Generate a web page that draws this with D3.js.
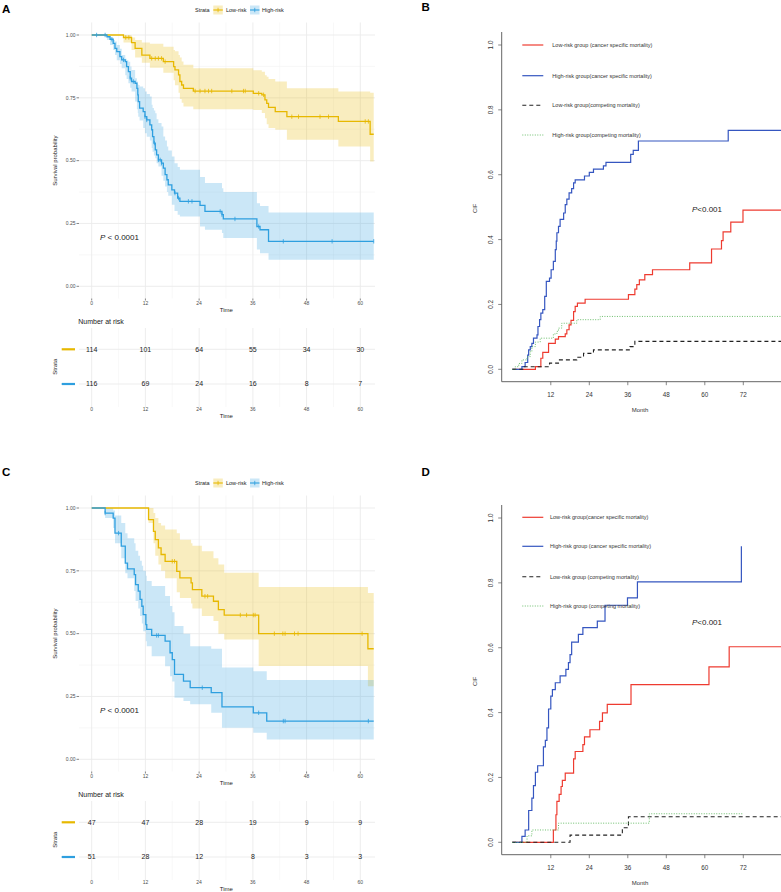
<!DOCTYPE html>
<html><head><meta charset="utf-8">
<script src="https://cdn.jsdelivr.net/npm/d3@7"></script>
<style>body{margin:0;background:#fff} svg{display:block;font-family:"Liberation Sans",Arial,Helvetica,sans-serif}</style>
</head><body><svg id="c" width="781" height="892"></svg>
<script>
// ---------- Panel A (Kaplan-Meier) ----------
const aLowT  = [0,7.1,8.9,9.7,11.2,13.0,16.0,18.3,18.6,19.4,19.7,20.1,20.5,22.7,36.1,38.0,38.7,39.1,39.5,41.0,43.6,55.1,62.2,63.0];
const aLowS  = [1,0.99,0.97,0.947,0.92,0.907,0.894,0.874,0.861,0.841,0.815,0.801,0.788,0.777,0.768,0.762,0.742,0.728,0.712,0.695,0.675,0.656,0.605,0.605];
const aLowU  = [1,1,0.99,0.98,0.97,0.965,0.953,0.94,0.935,0.92,0.91,0.895,0.882,0.868,0.86,0.854,0.84,0.834,0.825,0.815,0.788,0.775,0.77,0.77];
const aLowL  = [1,0.97,0.94,0.91,0.89,0.87,0.85,0.82,0.80,0.77,0.745,0.73,0.715,0.705,0.702,0.69,0.669,0.645,0.63,0.623,0.583,0.556,0.497,0.497];
const aLowC  = [7.6,8.3,13.4,14.2,14.9,15.6,16.4,23.1,24.2,25.3,26.1,26.8,31.3,33.9,34.3,37.3,38.4,44.7,46.2,51.0,52.9,61.1,61.8];
const aHighT = [0,3.4,4.1,4.8,5.2,5.6,6.3,6.7,7.5,7.8,8.2,8.6,8.9,9.7,10.1,10.3,10.4,10.7,11.5,11.9,12.3,13.0,13.4,13.6,13.9,14.2,14.5,14.9,15.6,16.0,16.4,16.8,17.1,17.9,18.5,19.2,19.7,24.2,25.3,29.1,29.4,36.9,37.6,39.5,63.0];
const aHighS = [1,0.993,0.983,0.967,0.947,0.934,0.914,0.901,0.894,0.874,0.854,0.828,0.815,0.808,0.788,0.762,0.735,0.709,0.695,0.675,0.662,0.642,0.623,0.596,0.570,0.543,0.523,0.503,0.490,0.470,0.444,0.424,0.404,0.384,0.371,0.351,0.338,0.322,0.298,0.285,0.268,0.238,0.225,0.179,0.179];
const aHighU = [1,0.995,0.99,0.98,0.974,0.96,0.945,0.92,0.905,0.9,0.894,0.875,0.861,0.828,0.815,0.805,0.801,0.795,0.788,0.775,0.765,0.755,0.722,0.71,0.70,0.689,0.665,0.65,0.636,0.596,0.58,0.556,0.54,0.517,0.49,0.475,0.464,0.435,0.411,0.39,0.375,0.33,0.32,0.294,0.294];
const aHighL = [1,0.98,0.96,0.94,0.92,0.90,0.885,0.868,0.84,0.825,0.808,0.79,0.775,0.735,0.705,0.69,0.675,0.66,0.63,0.609,0.595,0.58,0.55,0.535,0.52,0.51,0.49,0.477,0.44,0.42,0.397,0.375,0.36,0.325,0.30,0.285,0.278,0.238,0.225,0.212,0.192,0.146,0.132,0.106,0.106];
const aHighC = [1.1,3.0,4.5,7.1,8.6,9.3,11.9,12.3,14.0,14.9,15.3,15.6,18.6,19.4,21.6,22.4,28.7,29.1,32.0,37.3,42.8,53.7,63.0];
const aRiskLow  = [114,101,64,55,34,30];
const aRiskHigh = [116,69,24,16,8,7];

// ---------- Panel C (Kaplan-Meier) ----------
const cLowT  = [0,12.7,13.8,14.2,14.9,15.5,16.4,19.0,19.7,22.2,22.5,24.6,27.2,28.3,29.6,37.3,61.7,63.0];
const cLowS  = [1,0.954,0.907,0.874,0.841,0.815,0.788,0.748,0.722,0.702,0.675,0.649,0.629,0.596,0.574,0.5,0.44,0.44];
const cLowU  = [1,1,0.98,0.96,0.94,0.93,0.914,0.90,0.874,0.86,0.85,0.828,0.80,0.775,0.742,0.686,0.662,0.662];
const cLowL  = [1,0.94,0.86,0.81,0.775,0.75,0.72,0.665,0.642,0.62,0.60,0.57,0.55,0.50,0.477,0.371,0.291,0.291];
const cLowC  = [18.0,18.5,25.3,25.9,33.2,34.6,36.1,36.5,40.8,42.7,43.2,45.3,46.1,60.4];
const cHighT = [0,3.0,4.8,5.2,6.6,7.5,8.0,9.5,9.8,10.4,10.8,11.2,11.5,12.1,12.3,13.4,16.4,17.5,18.0,18.5,20.5,22.0,26.7,29.1,36.1,39.1,63.0];
const cHighS = [1,0.98,0.96,0.90,0.848,0.781,0.758,0.735,0.695,0.669,0.636,0.609,0.576,0.536,0.517,0.493,0.47,0.424,0.397,0.338,0.311,0.285,0.265,0.209,0.185,0.152,0.152];
const cHighU = [1,1,0.99,0.97,0.94,0.90,0.88,0.86,0.83,0.81,0.79,0.77,0.75,0.73,0.71,0.69,0.65,0.61,0.585,0.53,0.50,0.45,0.44,0.365,0.35,0.316,0.316];
const cHighL = [1,0.96,0.92,0.86,0.80,0.74,0.72,0.67,0.63,0.60,0.57,0.54,0.51,0.47,0.45,0.41,0.37,0.33,0.31,0.245,0.232,0.219,0.185,0.126,0.106,0.079,0.079];
const cHighC = [3.0,6.0,14.5,14.9,24.7,37.3,42.8,43.2,61.8];
const cRiskLow  = [47,47,28,19,9,9];
const cRiskHigh = [51,28,12,8,3,3];

const kmTicksX = [0,12,24,36,48,60];
const kmTicksY = [0,0.25,0.5,0.75,1];
const kmTickLabY = ["0.00","0.25","0.50","0.75","1.00"];
const strata = ["Low-risk","High-risk"];

// ---------- Panel B (CIF) ----------
const bHighCsmT = [0,3.0,4.0,4.8,5.1,5.6,6.1,6.6,7.7,8.0,8.5,8.9,9.5,10.1,10.6,11.6,12.1,12.8,13.4,13.7,13.9,14.4,14.9,16.0,16.5,17.0,17.7,18.5,19.1,19.6,22.5,24.0,25.3,28.4,29.2,36.9,37.7,39.3,67.3,84];
const bHighCsmV = [0,0.008,0.021,0.044,0.06,0.07,0.08,0.096,0.106,0.132,0.153,0.173,0.184,0.225,0.271,0.281,0.307,0.333,0.369,0.395,0.421,0.441,0.462,0.482,0.508,0.525,0.544,0.557,0.575,0.584,0.596,0.607,0.617,0.627,0.638,0.663,0.675,0.704,0.737,0.737];
const bLowCsmT  = [0,7.2,8.9,9.5,11.3,13.4,14.4,16.5,17.0,17.7,18.3,19.1,19.6,20.3,22.7,36.2,38.2,38.8,39.6,41.3,43.7,55.3,62.1,65.2,65.7,68.1,71.9,84];
const bLowCsmV  = [0,0.008,0.034,0.052,0.08,0.093,0.101,0.109,0.122,0.137,0.151,0.178,0.194,0.204,0.216,0.23,0.247,0.261,0.276,0.292,0.307,0.328,0.371,0.397,0.424,0.454,0.491,0.491];
const bHighCmpT = [0,0.9,2.0,3.0,4.6,5.6,6.1,7.2,8.7,12.8,13.9,14.4,15.4,20.1,27.4,84];
const bHighCmpV = [0,0.008,0.018,0.029,0.039,0.055,0.07,0.084,0.096,0.109,0.117,0.127,0.142,0.153,0.163,0.163];
const bLowCmpT  = [0,3.5,11.6,14.4,20.1,22.2,25.3,36.7,38.2,84];
const bLowCmpV  = [0,0.008,0.019,0.029,0.037,0.049,0.06,0.07,0.086,0.086];
const bLegend = ["Low-risk group (cancer specific mortality)","High-risk group(cancer specific mortality)","Low-risk group(competing mortality)","High-risk group(competing mortality)"];

// ---------- Panel D (CIF) ----------
const dHighCsmT = [0,3.0,4.0,5.1,6.1,6.6,7.2,7.9,9.7,10.3,10.8,11.3,12.0,12.5,13.4,14.9,16.7,17.5,18.0,18.5,20.6,22.0,26.5,28.9,35.9,39.0,71.4];
const dHighCsmV = [0,0.018,0.038,0.098,0.136,0.175,0.216,0.236,0.294,0.314,0.353,0.411,0.451,0.471,0.492,0.513,0.533,0.554,0.579,0.617,0.641,0.662,0.682,0.731,0.754,0.803,0.913];
const dLowCsmT  = [0,12.8,13.6,13.9,14.6,15.2,15.6,16.5,19.1,19.6,22.0,22.5,24.2,27.2,28.1,29.6,37.0,61.3,67.6,84];
const dLowCsmV  = [0,0.038,0.085,0.126,0.148,0.172,0.191,0.213,0.257,0.28,0.301,0.325,0.347,0.373,0.399,0.425,0.486,0.541,0.603,0.603];
const dHighCmpT = [0,4.6,6.1,14.4,42.7,71.7];
const dHighCmpV = [0,0.02,0.038,0.059,0.088,0.088];
const dLowCmpT  = [0,18.0,34.3,36.2,84];
const dLowCmpV  = [0,0.022,0.045,0.079,0.079];
const dLegend = ["Low-risk group(cancer specific mortality)","High-risk group (cancer specific mortality)","Low-risk group (competing mortality)","High-risk group (competing mortality)"];

const cifTicksX = [12,24,36,48,60,72];
const cifTicksY = [0,0.2,0.4,0.6,0.8,1.0];

// ---------- drawing ----------
const svg = d3.select("#c");
const YEL = "#E7B800", BLU = "#2E9FDF";
const RED = "#EE3B30", CBLU = "#3556C0", GRN = "#5CB85C", BLK = "#222222";

function stepVal(ts, vs, t) { const i = d3.bisectRight(ts, t) - 1; return vs[Math.max(0, i)]; }

function drawKM(dy, low, high, riskLow, riskHigh) {
  const g = svg.append("g").attr("transform", `translate(0,${dy})`);
  const x = d3.scaleLinear().domain([0, 60]).range([91.7, 360.3]);
  const y = d3.scaleLinear().domain([0, 1]).range([286.3, 35]);
  const px0 = 79, px1 = 375, py0 = 22.5, py1 = 298.5;
  // grid
  [6,18,30,42,54].forEach(m => g.append("line").attr("x1", x(m)).attr("x2", x(m)).attr("y1", py0).attr("y2", py1).attr("stroke", "#F3F3F3").attr("stroke-width", 0.6));
  [0.125,0.375,0.625,0.875].forEach(v => g.append("line").attr("x1", px0).attr("x2", px1).attr("y1", y(v)).attr("y2", y(v)).attr("stroke", "#F3F3F3").attr("stroke-width", 0.6));
  kmTicksX.forEach(m => g.append("line").attr("x1", x(m)).attr("x2", x(m)).attr("y1", py0).attr("y2", py1).attr("stroke", "#EBEBEB").attr("stroke-width", 0.9));
  kmTicksY.forEach(v => g.append("line").attr("x1", px0).attr("x2", px1).attr("y1", y(v)).attr("y2", y(v)).attr("stroke", "#EBEBEB").attr("stroke-width", 0.9));

  const series = [
    {d: low, col: YEL},
    {d: high, col: BLU}
  ];
  series.forEach(s => {
    const pts = s.d.t.map((t, i) => ({t, u: s.d.u[i], l: s.d.l[i], s: s.d.s[i]}));
    g.append("path").datum(pts)
      .attr("d", d3.area().curve(d3.curveStepAfter).x(p => x(p.t)).y0(p => y(p.l)).y1(p => y(p.u)))
      .attr("fill", s.col).attr("fill-opacity", 0.25);
  });
  series.forEach(s => {
    const pts = s.d.t.map((t, i) => ({t, s: s.d.s[i]}));
    g.append("path").datum(pts)
      .attr("d", d3.line().curve(d3.curveStepAfter).x(p => x(p.t)).y(p => y(p.s)))
      .attr("fill", "none").attr("stroke", s.col).attr("stroke-width", 1.3);
    s.d.c.forEach(t => {
      const v = stepVal(s.d.t, s.d.s, t);
      g.append("line").attr("x1", x(t)).attr("x2", x(t)).attr("y1", y(v) - 2.2).attr("y2", y(v) + 2.2)
        .attr("stroke", s.col).attr("stroke-width", 0.8);
    });
  });
  // y axis
  kmTicksY.forEach((v, i) => {
    g.append("line").attr("x1", 76.5).attr("x2", 79).attr("y1", y(v)).attr("y2", y(v)).attr("stroke", "#333").attr("stroke-width", 0.6);
    g.append("text").attr("x", 75.5).attr("y", y(v)).attr("dy", "0.35em").attr("text-anchor", "end")
      .attr("font-size", 5).attr("fill", "#4D4D4D").text(kmTickLabY[i]);
  });
  kmTicksX.forEach(m => {
    g.append("line").attr("x1", x(m)).attr("x2", x(m)).attr("y1", py1).attr("y2", py1 + 2).attr("stroke", "#333").attr("stroke-width", 0.6);
    g.append("text").attr("x", x(m)).attr("y", 304.5).attr("text-anchor", "middle").attr("font-size", 5).attr("fill", "#4D4D4D").text(m);
  });
  g.append("text").attr("x", 226.3).attr("y", 312).attr("text-anchor", "middle").attr("font-size", 6).attr("fill", "#222").text("Time");
  g.append("text").attr("transform", "translate(57,160.7) rotate(-90)").attr("text-anchor", "middle").attr("font-size", 6).attr("fill", "#222").text("Survival probability");
  // p value
  const pt = g.append("text").attr("x", 100).attr("y", 239.5).attr("font-size", 8).attr("fill", "#222");
  pt.append("tspan").attr("font-style", "italic").text("P");
  pt.append("tspan").text(" < 0.0001");
  // legend
  g.append("text").attr("x", 195).attr("y", 10).attr("dy", "0.35em").attr("font-size", 5.5).attr("fill", "#222").text("Strata");
  [[213.3, YEL, 226, "Low-risk"], [250, BLU, 262, "High-risk"]].forEach(([kx, col, tx, lab]) => {
    g.append("rect").attr("x", kx).attr("y", 5.5).attr("width", 9.5).attr("height", 9).attr("fill", col).attr("fill-opacity", 0.25);
    g.append("line").attr("x1", kx).attr("x2", kx + 9.5).attr("y1", 10).attr("y2", 10).attr("stroke", col).attr("stroke-width", 1.1);
    g.append("line").attr("x1", kx + 4.75).attr("x2", kx + 4.75).attr("y1", 7.8).attr("y2", 12.2).attr("stroke", col).attr("stroke-width", 0.8);
    g.append("text").attr("x", tx).attr("y", 10).attr("dy", "0.35em").attr("font-size", 5.5).attr("fill", "#222").text(lab);
  });

  // risk table
  const ry = d3.scalePoint().domain(strata).range([349.3, 384]);
  [6,18,30,42,54].forEach(m => g.append("line").attr("x1", x(m)).attr("x2", x(m)).attr("y1", 328).attr("y2", 407).attr("stroke", "#F3F3F3").attr("stroke-width", 0.6));
  kmTicksX.forEach(m => g.append("line").attr("x1", x(m)).attr("x2", x(m)).attr("y1", 328).attr("y2", 407).attr("stroke", "#EBEBEB").attr("stroke-width", 0.9));
  strata.forEach(s => g.append("line").attr("x1", px0).attr("x2", px1).attr("y1", ry(s)).attr("y2", ry(s)).attr("stroke", "#EBEBEB").attr("stroke-width", 0.9));
  g.append("text").attr("x", 78.3).attr("y", 321.7).attr("dy", "0.35em").attr("font-size", 7).attr("fill", "#222").text("Number at risk");
  [[strata[0], riskLow, YEL], [strata[1], riskHigh, BLU]].forEach(([s, vals, col]) => {
    g.append("line").attr("x1", 61.7).attr("x2", 75).attr("y1", ry(s)).attr("y2", ry(s)).attr("stroke", col).attr("stroke-width", 2.2);
    vals.forEach((v, i) => g.append("text").attr("x", x(kmTicksX[i])).attr("y", ry(s)).attr("dy", "0.35em")
      .attr("text-anchor", "middle").attr("font-size", 7).attr("fill", "#222").text(v));
  });
  g.append("text").attr("transform", "translate(57,366.7) rotate(-90)").attr("text-anchor", "middle").attr("font-size", 6).attr("fill", "#222").text("Strata");
  kmTicksX.forEach(m => g.append("text").attr("x", x(m)).attr("y", 410.8).attr("text-anchor", "middle").attr("font-size", 5).attr("fill", "#4D4D4D").text(m));
  g.append("text").attr("x", 226.3).attr("y", 418).attr("text-anchor", "middle").attr("font-size", 6).attr("fill", "#222").text("Time");
}

function drawCIF(dy, lines, legend, legTextX, pM, pV, clipId) {
  const g = svg.append("g").attr("transform", `translate(0,${dy})`);
  const x = d3.scaleLinear().domain([0, 72]).range([512.3, 743.3]);
  const y = d3.scaleLinear().domain([0, 1]).range([369.3, 45]);
  const left = 501.7, bottom = 381.7, top = 32;
  g.append("clipPath").attr("id", clipId).append("rect").attr("x", left).attr("y", top).attr("width", 781 - left).attr("height", bottom - top);
  const pg = g.append("g").attr("clip-path", `url(#${clipId})`);
  lines.forEach(L => {
    const pts = L.t.map((t, i) => ({t, v: L.v[i]}));
    pg.append("path").datum(pts)
      .attr("d", d3.line().curve(d3.curveStepAfter).x(p => x(p.t)).y(p => y(p.v)))
      .attr("fill", "none").attr("stroke", L.col).attr("stroke-width", L.w)
      .attr("stroke-dasharray", L.dash);
  });
  // axes box (L)
  g.append("line").attr("x1", left).attr("x2", left).attr("y1", top).attr("y2", bottom).attr("stroke", "#555").attr("stroke-width", 0.9);
  g.append("line").attr("x1", left).attr("x2", 781).attr("y1", bottom).attr("y2", bottom).attr("stroke", "#555").attr("stroke-width", 0.9);
  cifTicksY.forEach(v => {
    g.append("line").attr("x1", left - 3.5).attr("x2", left).attr("y1", y(v)).attr("y2", y(v)).attr("stroke", "#555").attr("stroke-width", 0.7);
    g.append("text").attr("transform", `translate(492.5,${y(v)}) rotate(-90)`).attr("text-anchor", "middle")
      .attr("font-size", 6.3).attr("fill", "#333").text(d3.format(".1f")(v));
  });
  cifTicksX.forEach(m => {
    g.append("line").attr("x1", x(m)).attr("x2", x(m)).attr("y1", bottom).attr("y2", bottom + 3.5).attr("stroke", "#555").attr("stroke-width", 0.7);
    g.append("text").attr("x", x(m)).attr("y", 397.3).attr("text-anchor", "middle").attr("font-size", 6.3).attr("fill", "#333").text(m);
  });
  g.append("text").attr("transform", "translate(477,208.3) rotate(-90)").attr("text-anchor", "middle").attr("font-size", 5.8).attr("fill", "#333").text("CIF");
  g.append("text").attr("x", 640).attr("y", 412).attr("text-anchor", "middle").attr("font-size", 6).attr("fill", "#333").text("Month");
  // legend
  const legY = [45, 75.7, 105.3, 135];
  lines.forEach((L, i) => {
    g.append("line").attr("x1", 522.3).attr("x2", 543.3).attr("y1", legY[i] + L.ly).attr("y2", legY[i] + L.ly)
      .attr("stroke", L.col).attr("stroke-width", L.w).attr("stroke-dasharray", L.dash);
    g.append("text").attr("x", legTextX).attr("y", legY[i] + L.ly).attr("dy", "0.35em").attr("font-size", 5.5).attr("fill", "#333").text(legend[i]);
  });
  const pt = g.append("text").attr("x", x(pM)).attr("y", y(pV)).attr("dy", "0.35em").attr("font-size", 8).attr("fill", "#222");
  pt.append("tspan").attr("font-style", "italic").text("P");
  pt.append("tspan").text("<0.001");
}

drawKM(0,
  {t: aLowT, s: aLowS, u: aLowU, l: aLowL, c: aLowC},
  {t: aHighT, s: aHighS, u: aHighU, l: aHighL, c: aHighC},
  aRiskLow, aRiskHigh);
drawKM(473,
  {t: cLowT, s: cLowS, u: cLowU, l: cLowL, c: cLowC},
  {t: cHighT, s: cHighS, u: cHighU, l: cHighL, c: cHighC},
  cRiskLow, cRiskHigh);

drawCIF(0, [
  {t: bLowCsmT, v: bLowCsmV, col: RED, w: 1.2, dash: null, ly: 0},
  {t: bHighCsmT, v: bHighCsmV, col: CBLU, w: 1.2, dash: null, ly: 0},
  {t: bLowCmpT, v: bLowCmpV, col: BLK, w: 1.1, dash: "4,3", ly: 0},
  {t: bHighCmpT, v: bHighCmpV, col: GRN, w: 0.9, dash: "1,1.5", ly: 0}
], bLegend, 552.3, 56, 0.493, "clipB");

drawCIF(473, [
  {t: dLowCsmT, v: dLowCsmV, col: RED, w: 1.2, dash: null, ly: -0.7},
  {t: dHighCsmT, v: dHighCsmV, col: CBLU, w: 1.2, dash: null, ly: -2.4},
  {t: dLowCmpT, v: dLowCmpV, col: BLK, w: 1.1, dash: "4,3", ly: -1.6},
  {t: dHighCmpT, v: dHighCmpV, col: GRN, w: 0.9, dash: "1,1.5", ly: -2}
], dLegend, 550, 56, 0.678, "clipD");

// panel letters
[["A", 2, 8.5], ["B", 421.5, 7], ["C", 2, 471.7], ["D", 421.5, 471.7]].forEach(([t, lx, ly]) =>
  svg.append("text").attr("x", lx).attr("y", ly).attr("dy", "0.35em").attr("font-size", 11.5).attr("font-weight", "bold").attr("fill", "#000").text(t));
</script></body></html>
